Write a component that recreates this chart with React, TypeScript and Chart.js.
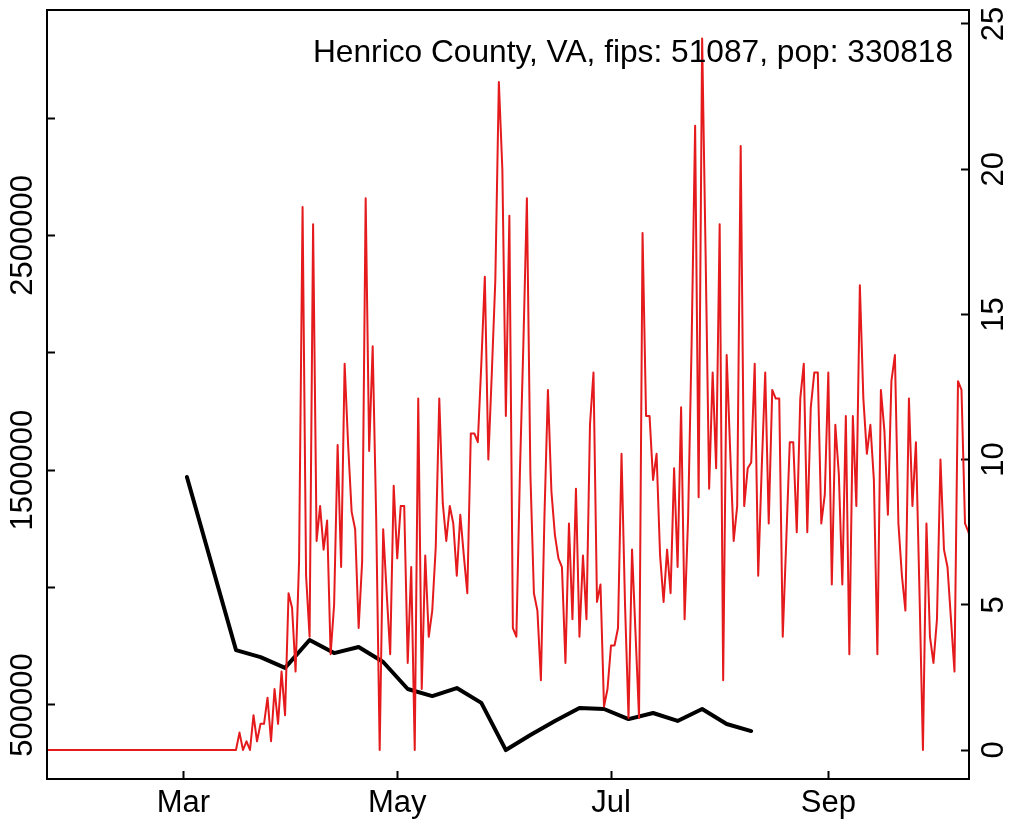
import React, { useEffect, useRef } from 'react';
import { Chart, registerables } from 'chart.js';

Chart.register(...registerables);

const TITLE = 'Henrico County, VA, fips: 51087, pop: 330818';
const FONT = "'Liberation Sans', Arial, Helvetica, sans-serif";

// x axis (dates) ticks
const xTickDates = ['2020-03-01', '2020-05-01', '2020-07-01', '2020-09-01'];
const xTickLabels = ['Mar', 'May', 'Jul', 'Sep'];

// left axis ticks
const leftTicks = [500000, 1000000, 1500000, 2000000, 2500000, 3000000];
const leftTickLabels = ['500000', '', '1500000', '', '2500000', ''];

// right axis ticks
const rightTicks = [0, 5, 10, 15, 20, 25];
const rightTickLabels = ['0', '5', '10', '15', '20', '25'];

// weekly series (black, left axis)
const weeklyDates = [
  '2020-03-02', '2020-03-16', '2020-03-23', '2020-03-30', '2020-04-06', '2020-04-13',
  '2020-04-20', '2020-04-27', '2020-05-04', '2020-05-11', '2020-05-18', '2020-05-25',
  '2020-06-01', '2020-06-08', '2020-06-15', '2020-06-22', '2020-06-29', '2020-07-06',
  '2020-07-13', '2020-07-20', '2020-07-27', '2020-08-03', '2020-08-10',
];
const weeklyValues = [
  1471000, 734000, 704000, 658000, 777000, 721000,
  747000, 683000, 568000, 538000, 572000, 509000,
  308000, 372000, 432000, 487000, 483000, 440000,
  466000, 432000, 483000, 419000, 389000,
];

// daily series (red, right axis), one value per day from dailyStart
const dailyStart = '2020-01-22';
const dailyValues = [
  0, 0, 0, 0, 0, 0, 0, 0, 0, 0,
  0, 0, 0, 0, 0, 0, 0, 0, 0, 0,
  0, 0, 0, 0, 0, 0, 0, 0, 0, 0,
  0, 0, 0, 0, 0, 0, 0, 0, 0, 0,
  0, 0, 0, 0, 0, 0, 0, 0, 0, 0,
  0, 0, 0, 0,
  0, 0.6, 0, 0.3, 0, 1.2, 0.3, 0.9, 0.9, 1.8,
  0.3, 2.1, 0.9, 2.7, 1.2, 5.4, 4.9, 2.7, 6.5, 18.7,
  6.0, 3.9, 18.1, 7.2, 8.4, 6.9, 7.9, 3.3, 5.0, 10.5,
  6.3, 13.3, 10.5, 8.2, 7.6, 4.2, 6.5, 19.0, 10.3, 13.9,
  8.0, 0, 7.6, 5.4, 3.3, 9.1, 6.6, 8.4, 8.4, 3.0,
  6.3, 0, 12.1, 2.1, 6.7, 3.9, 4.8, 7.0, 12.1, 8.5,
  7.2, 8.4, 7.8, 6.0, 8.1, 6.7, 5.4, 10.9, 10.9, 10.6,
  13.3, 16.3, 10.0, 13.0, 16.2, 23.0, 20.0, 11.5, 18.4, 4.2,
  3.9, 9.5, 14.0, 19.0, 9.5, 5.4, 4.8, 2.4, 8.0, 12.4,
  8.9, 7.4, 6.6, 6.3, 3.0, 7.8, 4.5, 9.0, 3.9, 6.7,
  4.5, 11.2, 13.0, 5.1, 5.7, 1.5, 2.1, 3.6, 3.6, 4.2,
  10.2, 5.0, 1.1, 6.9, 4.0, 1.1, 17.8, 11.5, 11.5, 9.3,
  10.2, 6.7, 5.1, 6.9, 5.4, 9.7, 6.3, 11.8, 4.5, 8.0,
  14.0, 21.5, 8.7, 24.5, 17.0, 9.0, 13.0, 9.7, 18.1, 2.4,
  13.6, 10.3, 7.2, 8.4, 20.8, 8.4, 9.7, 9.9, 13.3, 6.0,
  9.7, 13.0, 7.8, 12.4, 12.1, 12.1, 3.9, 7.2, 10.6, 10.6,
  7.5, 12.1, 13.3, 7.5, 11.8, 13.0, 13.0, 7.8, 8.8, 13.0,
  5.7, 11.2, 9.5, 5.7, 11.5, 3.3, 11.5, 8.4, 16.0, 12.1,
  10.2, 11.2, 9.3, 3.3, 12.4, 11.0, 8.1, 12.7, 13.6, 7.8,
  6.0, 4.8, 12.1, 8.4, 10.6, 5.5, 0, 7.8, 3.9, 3.0,
  4.5, 10.0, 6.9, 6.3, 4.5, 2.7, 12.7, 12.4, 7.8, 7.5,
  7.0,
];

const dayOf = (s: string) => (Date.parse(s) - Date.parse('2020-01-01')) / 86400000;

const X_MIN = 21.08;
const X_MAX = 284.14;
const L_MIN = 184800;
const L_MAX = 3460000;
const R_MIN = -0.9986;
const R_MAX = 25.482;

const boxAndTitle = {
  id: 'boxAndTitle',
  afterDraw(chart: any) {
    const { ctx, chartArea } = chart;
    ctx.save();
    ctx.strokeStyle = '#000';
    ctx.lineWidth = 2;
    ctx.strokeRect(chartArea.left, chartArea.top, chartArea.right - chartArea.left, chartArea.bottom - chartArea.top);
    ctx.fillStyle = '#000';
    ctx.font = `31.7px ${FONT}`;
    ctx.textAlign = 'right';
    ctx.textBaseline = 'alphabetic';
    ctx.fillText(TITLE, 953, 62);
    ctx.restore();
  },
};

const tickGrid = {
  display: true,
  drawOnChartArea: false,
  drawTicks: true,
  tickLength: -8,
  tickWidth: 2,
  tickColor: '#000',
};

const zeroPad = (s: any) => {
  s.paddingTop = 0;
  s.paddingBottom = 0;
  s.paddingLeft = 0;
  s.paddingRight = 0;
};

export default function App() {
  const ref = useRef<HTMLCanvasElement>(null);

  useEffect(() => {
    if (!ref.current) return;
    const startDay = dayOf(dailyStart);
    const chart = new Chart(ref.current, {
      type: 'line',
      data: {
        datasets: [
          {
            label: 'daily',
            data: dailyValues.map((v, i) => ({ x: startDay + i, y: v })),
            yAxisID: 'y1',
            borderColor: '#E41A1C',
            borderWidth: 2,
            pointRadius: 0,
            tension: 0,
            borderJoinStyle: 'round',
            borderCapStyle: 'round',
            fill: false,
          },
          {
            label: 'weekly',
            data: weeklyDates.map((d, i) => ({ x: dayOf(d), y: weeklyValues[i] })),
            yAxisID: 'y',
            borderColor: '#000000',
            borderWidth: 4,
            pointRadius: 0,
            tension: 0,
            borderJoinStyle: 'round',
            borderCapStyle: 'round',
            fill: false,
          },
        ],
      },
      options: {
        animation: false,
        responsive: false,
        devicePixelRatio: 1,
        events: [],
        layout: { padding: { top: 10, left: 0, right: 0, bottom: 0 } },
        plugins: {
          legend: { display: false },
          tooltip: { enabled: false },
          title: { display: false },
        },
        scales: {
          x: {
            type: 'linear',
            min: X_MIN,
            max: X_MAX,
            afterBuildTicks: (s: any) => {
              s.ticks = xTickDates.map((d) => ({ value: dayOf(d) }));
            },
            afterFit: (s: any) => {
              s.height = 48;
              zeroPad(s);
            },
            grid: tickGrid,
            border: { display: false },
            ticks: {
              autoSkip: false,
              maxRotation: 0,
              minRotation: 0,
              padding: 14,
              color: '#000',
              font: { family: FONT, size: 31 },
              callback: (_v: any, i: number) => xTickLabels[i],
            },
          },
          y: {
            type: 'linear',
            position: 'left',
            min: L_MIN,
            max: L_MAX,
            afterBuildTicks: (s: any) => {
              s.ticks = leftTicks.map((v) => ({ value: v }));
            },
            afterFit: (s: any) => {
              s.width = 47;
              zeroPad(s);
            },
            grid: tickGrid,
            border: { display: false },
            ticks: {
              autoSkip: false,
              minRotation: 90,
              maxRotation: 90,
              crossAlign: 'center',
              padding: -28.85,
              color: '#000',
              font: { family: FONT, size: 31 },
              callback: (_v: any, i: number) => leftTickLabels[i],
            },
          },
          y1: {
            type: 'linear',
            position: 'right',
            min: R_MIN,
            max: R_MAX,
            afterBuildTicks: (s: any) => {
              s.ticks = rightTicks.map((v) => ({ value: v }));
            },
            afterFit: (s: any) => {
              s.width = 46;
              zeroPad(s);
            },
            grid: tickGrid,
            border: { display: false },
            ticks: {
              autoSkip: false,
              minRotation: 90,
              maxRotation: 90,
              crossAlign: 'center',
              padding: 16.26,
              color: '#000',
              font: { family: FONT, size: 31 },
              callback: (_v: any, i: number) => rightTickLabels[i],
            },
          },
        },
      } as any,
      plugins: [boxAndTitle],
    });
    return () => chart.destroy();
  }, []);

  return (
    <div style={{ position: 'absolute', left: 0, top: 0, width: 1015, height: 827, background: '#fff' }}>
      <canvas ref={ref} width={1015} height={827} style={{ display: 'block' }} />
    </div>
  );
}
